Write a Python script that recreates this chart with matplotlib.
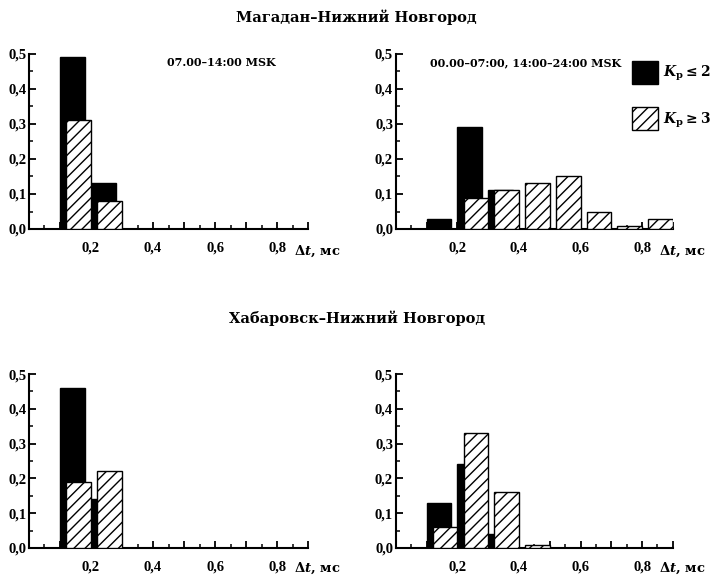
import matplotlib
matplotlib.use('Agg')
import matplotlib.pyplot as plt
from matplotlib.patches import Patch
from matplotlib.ticker import MultipleLocator, FuncFormatter

plt.rcParams['font.family'] = 'DejaVu Serif'
plt.rcParams['font.weight'] = 'bold'
plt.rcParams['mathtext.fontset'] = 'custom'
plt.rcParams['mathtext.rm'] = 'DejaVu Serif:bold'
plt.rcParams['mathtext.it'] = 'DejaVu Serif:italic:bold'
plt.rcParams['mathtext.bf'] = 'DejaVu Serif:bold'
plt.rcParams['hatch.linewidth'] = 1.0

# bin starts, ms
bins = [0.1, 0.2, 0.3, 0.4, 0.5, 0.6, 0.7, 0.8]

# Magadan - N. Novgorod
mag_day_low = [0.49, 0.13, 0, 0, 0, 0, 0, 0]
mag_day_high = [0.31, 0.08, 0, 0, 0, 0, 0, 0]
mag_night_low = [0.03, 0.29, 0.11, 0, 0, 0, 0, 0]
mag_night_high = [0, 0.09, 0.11, 0.13, 0.15, 0.05, 0.01, 0.03]

# Khabarovsk - N. Novgorod
hab_day_low = [0.46, 0.14, 0, 0, 0, 0, 0, 0]
hab_day_high = [0.19, 0.22, 0, 0, 0, 0, 0, 0]
hab_night_low = [0.13, 0.24, 0.04, 0, 0, 0, 0, 0]
hab_night_high = [0.06, 0.33, 0.16, 0.01, 0, 0, 0, 0]

day_label = '07.00–14:00 MSK'
night_label = '00.00–07:00, 14:00–24:00 MSK'
titles = ['Магадан–Нижний Новгород', 'Хабаровск–Нижний Новгород']
legend_labels = [r'$K_\mathbf{p}\leq 2$', r'$K_\mathbf{p}\geq 3$']

tick_font = {'family': 'Liberation Serif', 'weight': 'bold', 'size': 10.5}

fig = plt.figure(figsize=(7.12, 5.78), dpi=100)

left_x, right_x = 0.0407, 0.556
widths = [0.392, 0.389]
row_y = [0.6038, 0.0519]
row_h = [0.3028, 0.301]

panels = [
    (0, 0, mag_day_low, mag_day_high, day_label),
    (0, 1, mag_night_low, mag_night_high, night_label),
    (1, 0, hab_day_low, hab_day_high, None),
    (1, 1, hab_night_low, hab_night_high, None),
]

xfmt = FuncFormatter(lambda v, pos: (f'{v:.1f}'.replace('.', ',')
                                     if round(v * 10) in (2, 4, 6, 8) else ''))
yfmt = FuncFormatter(lambda v, pos: f'{v:.1f}'.replace('.', ','))

for r, c, low, high, note in panels:
    ax = fig.add_axes([[left_x, right_x][c], row_y[r], widths[c], row_h[r]])
    ax.bar(bins, low, width=0.08, align='edge', color='black',
           edgecolor='black', linewidth=1.0, zorder=2)
    ax.bar([b + 0.02 for b in bins], high, width=0.08, align='edge',
           color='white', edgecolor='black', hatch='///', linewidth=1.0,
           zorder=3)
    ax.set_xlim(0, 0.9)
    ax.set_ylim(0, 0.5)
    for s in ['top', 'right']:
        ax.spines[s].set_visible(False)
    for s in ['left', 'bottom']:
        ax.spines[s].set_linewidth(1.5)
    ax.xaxis.set_major_locator(MultipleLocator(0.1))
    ax.xaxis.set_minor_locator(MultipleLocator(0.05))
    ax.yaxis.set_major_locator(MultipleLocator(0.1))
    ax.yaxis.set_minor_locator(MultipleLocator(0.05))
    ax.xaxis.set_major_formatter(xfmt)
    ax.yaxis.set_major_formatter(yfmt)
    ax.tick_params(which='major', direction='in', length=5, width=1.3)
    ax.tick_params(which='minor', direction='in', length=3, width=1.1)
    ax.tick_params(axis='x', pad=9)
    ax.tick_params(axis='y', pad=2)
    for lbl in ax.get_xticklabels() + ax.get_yticklabels():
        lbl.set_fontproperties(tick_font)
    ax.text(0.855, -0.13 if r == 0 else -0.115, r'$\Delta t$, мс',
            transform=ax.get_xaxis_transform(),
            ha='left', va='center', fontsize=9.5, fontweight='bold')
    if note:
        ax.text(0.69 if c == 0 else 0.47, 0.95, note, transform=ax.transAxes,
                ha='center', va='center', fontsize=8, fontweight='bold')

fig.text(0.501, 0.971, titles[0], ha='center', va='center',
         fontsize=10.5, fontweight='bold')
fig.text(0.501, 0.45, titles[1], ha='center', va='center',
         fontsize=10.5, fontweight='bold')

handles = [Patch(facecolor='black', edgecolor='black'),
           Patch(facecolor='white', edgecolor='black', hatch='///')]
fig.legend(handles, legend_labels, loc='upper left',
           bbox_to_anchor=(632 / 712, 1 - 61 / 578), bbox_transform=fig.transFigure,
           frameon=False, fontsize=10, borderpad=0, borderaxespad=0,
           handlelength=1.85, handleheight=2.15, labelspacing=1.7,
           handletextpad=0.35)

fig.savefig('out.png', dpi=100)
